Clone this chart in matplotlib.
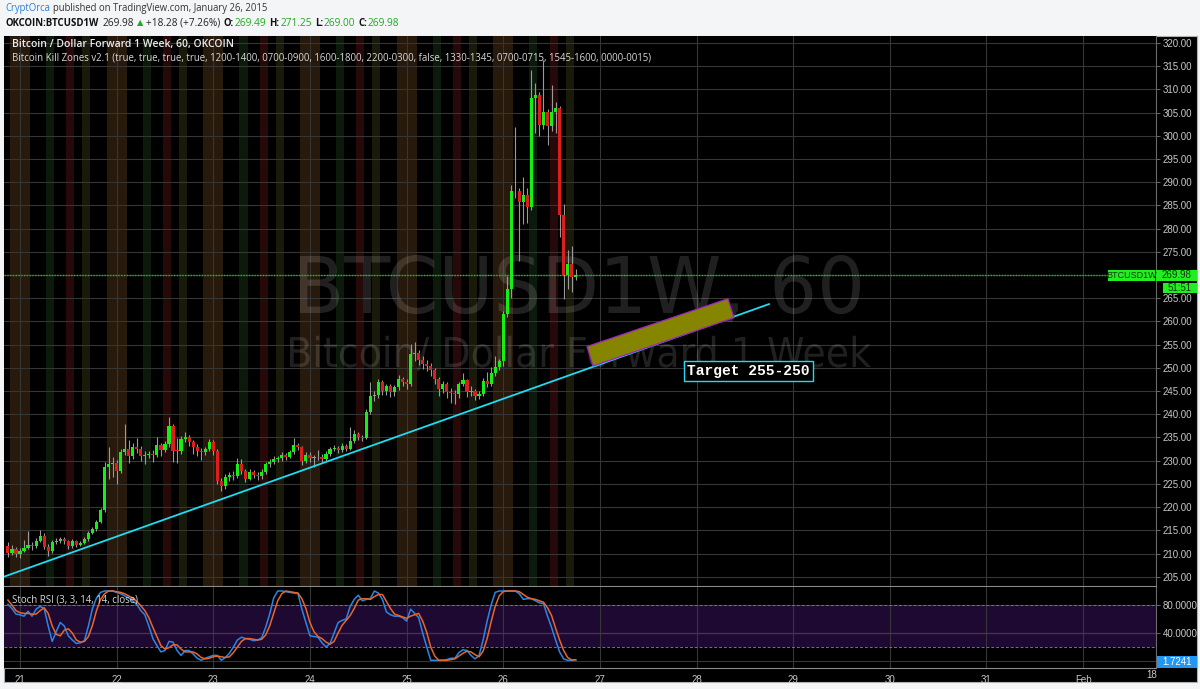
import matplotlib
matplotlib.use("Agg")
import matplotlib.pyplot as plt
import numpy as np
from matplotlib.patches import Polygon, Rectangle, PathPatch
from matplotlib.textpath import TextPath
from matplotlib.font_manager import FontProperties
from matplotlib.transforms import Affine2D

W, H = 1200, 689

# ---- data: hourly candles, OKCOIN BTCUSD 1W, from Jan 20 21:00 to Jan 26 17:00
first_open = 211.7
close = [210.2, 211.0, 210.0, 210.6, 211.2, 211.8, 211.6, 212.8, 213.8, 211.5,
         210.6, 212.5, 212.7, 213.1, 212.6, 211.6, 212.7, 211.9, 212.3, 213.1,
         214.5, 215.2, 216.8, 219.4, 228.6, 229.3, 229.4, 227.8, 231.9, 232.5,
         231.0, 233.0, 232.5, 231.0, 231.2, 231.5, 231.2, 233.4, 232.3, 233.6,
         237.5, 232.1, 232.0, 234.7, 235.1, 234.0, 233.0, 232.0, 231.9, 232.5,
         234.0, 232.0, 225.6, 224.6, 226.5, 226.9, 226.8, 229.3, 227.8, 226.1,
         227.6, 227.0, 226.6, 227.6, 229.3, 229.7, 230.4, 230.5, 231.2, 230.9,
         231.9, 233.4, 232.9, 229.9, 231.2, 230.6, 230.7, 230.9, 230.4, 231.4,
         232.5, 232.7, 232.2, 233.2, 232.6, 234.2, 235.7, 235.0, 234.8, 240.5,
         243.9, 244.2, 246.9, 245.0, 246.0, 244.8, 245.8, 247.6, 247.0, 246.5,
         253.0, 253.1, 251.8, 250.8, 250.4, 249.5, 247.6, 245.4, 246.5, 244.8,
         244.6, 244.3, 246.5, 247.3, 244.7, 245.0, 243.9, 244.3, 247.1, 246.5,
         248.8, 250.1, 251.4, 261.5, 266.9, 288.2, 288.0, 285.8, 287.3, 284.7,
         308.2, 308.8, 302.4, 305.2, 302.2, 305.2, 306.0, 283.0, 270.1, 272.3,
         269.49, 269.98]
high = [212.4, 211.8, 211.5, 211.2, 213.0, 214.8, 212.4, 213.3, 215.0, 214.4,
        212.0, 213.0, 213.4, 213.6, 213.5, 213.0, 213.1, 213.0, 212.8, 213.5,
        214.8, 215.8, 217.3, 219.9, 229.8, 233.0, 230.8, 230.2, 232.6, 237.9,
        234.5, 233.8, 234.8, 233.2, 232.0, 232.0, 232.2, 235.0, 233.9, 234.3,
        239.4, 238.0, 234.8, 235.3, 236.2, 235.6, 234.5, 233.6, 232.8, 233.0,
        234.6, 234.5, 232.6, 226.2, 227.2, 227.5, 227.8, 230.6, 230.4, 228.3,
        228.2, 228.0, 227.6, 228.3, 229.8, 230.3, 231.0, 231.0, 231.8, 231.6,
        232.4, 234.9, 233.9, 233.2, 231.8, 231.8, 231.3, 232.4, 231.4, 232.0,
        233.0, 233.4, 233.2, 233.8, 233.6, 237.2, 236.6, 236.2, 235.6, 241.2,
        246.9, 245.0, 247.6, 247.3, 246.6, 246.5, 246.4, 248.4, 248.0, 247.6,
        255.1, 255.5, 253.8, 252.6, 251.8, 251.0, 250.0, 248.0, 247.2, 247.0,
        245.6, 245.2, 247.0, 248.9, 247.6, 246.0, 245.5, 245.0, 247.8, 249.2,
        250.2, 252.5, 252.0, 262.2, 269.7, 289.3, 302.0, 288.8, 291.2, 288.8,
        314.2, 311.3, 309.5, 316.3, 305.8, 311.0, 307.3, 306.5, 285.2, 275.5,
        276.2, 271.25]
low = [209.3, 209.6, 209.2, 209.0, 210.3, 210.9, 210.8, 211.2, 212.4, 211.0,
       209.4, 210.2, 212.0, 212.3, 212.0, 211.0, 211.2, 211.5, 211.6, 212.0,
       212.8, 214.1, 214.9, 216.5, 219.0, 226.0, 226.5, 225.0, 227.3, 231.2,
       229.6, 230.3, 231.6, 230.0, 229.2, 230.6, 229.8, 230.8, 231.0, 231.8,
       233.0, 229.8, 229.5, 231.5, 234.0, 233.2, 231.5, 231.0, 230.2, 231.3,
       232.0, 231.2, 225.0, 223.5, 224.0, 225.6, 225.8, 226.3, 227.1, 225.3,
       225.8, 226.2, 225.9, 226.1, 227.2, 228.6, 229.2, 229.8, 230.0, 230.2,
       230.5, 231.5, 232.2, 229.0, 229.4, 229.8, 228.7, 230.1, 229.7, 230.0,
       231.0, 232.0, 231.6, 231.8, 232.0, 232.2, 233.8, 234.4, 234.2, 234.6,
       240.0, 242.8, 243.6, 244.2, 244.2, 243.7, 244.0, 245.2, 246.0, 245.5,
       246.0, 251.5, 250.6, 249.8, 249.3, 248.2, 246.6, 244.0, 244.6, 243.6,
       242.4, 242.2, 243.5, 246.0, 243.8, 244.0, 243.0, 243.3, 243.9, 245.8,
       246.0, 248.3, 249.5, 250.4, 261.0, 265.0, 286.5, 273.0, 281.0, 281.2,
       284.0, 300.6, 300.0, 301.5, 298.0, 301.0, 300.6, 278.3, 264.8, 266.9,
       266.3, 269.0]
stoch_k = [81, 75, 67, 66, 64, 71, 64, 74, 78, 75,
           50, 28, 42, 55, 50, 36, 30, 25, 26, 29,
           50, 75, 90, 98, 100, 100, 100, 98, 96, 93,
           90, 86, 81, 72, 66, 50, 32, 22, 13, 15,
           28, 27, 15, 8, 15, 15, 10, 4, 1, 4,
           6, 8, 8, 1, 5, 11, 20, 30, 34, 32,
           31, 29, 30, 33, 48, 67, 90, 100, 100, 99,
           98, 97, 97, 74, 55, 36, 35, 34, 26, 20,
           25, 40, 55, 58, 60, 78, 88, 94, 86, 88,
           89, 100, 97, 88, 70, 66, 64, 64, 62, 57,
           74, 68, 62, 40, 20, 1, 1, 1, 1, 2,
           4, 4, 12, 16, 15, 8, 3, 8, 30, 57,
           80, 98, 100, 100, 100, 100, 100, 96, 88, 89,
           89, 86, 83, 82, 64, 48, 30, 13, 3, 1,
           1, 1.7241]
stoch_d = [87, 80, 72, 69, 68, 68, 67, 67, 72, 76,
           68, 50, 38, 36, 44, 46, 40, 30, 27, 28,
           35, 51, 72, 88, 96, 100, 100, 99, 98, 96,
           93, 90, 85, 79, 72, 62, 48, 35, 22, 17,
           19, 23, 23, 17, 13, 13, 13, 10, 5, 3,
           4, 6, 7, 6, 5, 6, 12, 20, 28, 32,
           32, 31, 30, 31, 37, 50, 68, 86, 96, 100,
           99, 98, 97, 89, 75, 55, 42, 35, 32, 27,
           24, 28, 40, 51, 58, 65, 75, 87, 89, 89,
           88, 92, 95, 95, 85, 75, 67, 65, 63, 61,
           64, 66, 68, 57, 41, 20, 7, 1, 1, 1,
           2, 3, 7, 11, 14, 13, 9, 6, 14, 32,
           56, 78, 93, 99, 100, 100, 100, 99, 95, 91,
           89, 88, 86, 84, 76, 65, 47, 30, 15, 5,
           1.5, 1.7]
day_labels = ["21", "22", "23", "24", "25", "26", "27", "28", "29", "30", "31", "Feb"]
price_ticks = list(range(205, 325, 5))
last_price = 269.98
# kill zone hours (bar open hour) and their background colours
zone_hours = {"2200-0300": [22, 23, 0, 1, 2], "0700-0900": [7, 8],
              "1200-1400": [12, 13], "1600-1800": [16, 17]}
zone_colors = {"2200-0300": "#27190b", "0700-0900": "#0b1a0b",
               "1200-1400": "#270909", "1600-1800": "#1a1a0a"}
# drawings (hours since Jan 21 00:00, price)
trend_line = [(-4.0, 205.0), (186.2, 263.8)]
target_zone = [(140.8, 254.6), (175.8, 264.9), (177.3, 260.8), (142.3, 250.4)]
target_label = (180.8, 249.3)

hours = np.arange(len(close)) - 3
opens = np.r_[first_open, close[:-1]]
close = np.array(close)
day_hours = np.arange(len(day_labels)) * 24


def rect(x0, y0, x1, y1):
    return [x0 / W, 1 - y1 / H, (x1 - x0) / W, (y1 - y0) / H]


fig = plt.figure(figsize=(12, 6.89), dpi=100, facecolor="#f3f5f7")

bg = fig.add_axes(rect(4, 36, 1197, 682))
bg.set_facecolor("black")
bg.set_xticks([])
bg.set_yticks([])
for s in bg.spines.values():
    s.set_color("#b0b0b0")
    s.set_linewidth(0.8)

ax = fig.add_axes(rect(4, 36, 1156, 586))
rx = fig.add_axes(rect(4, 587, 1156, 668))
for a in (ax, rx):
    a.set_facecolor("black")
    for s in a.spines.values():
        s.set_visible(False)
    a.spines["right"].set_visible(True)
    a.spines["right"].set_color("#6a6a6a")
    a.spines["bottom"].set_visible(True)
    a.spines["bottom"].set_color("#8a8a8a")
    a.set_xlim(-3.97, 282.1)
    a.set_xticks(day_hours)
    a.grid(True, color="#363636", lw=0.8, zorder=0.5)
    a.set_axisbelow(True)

# kill zone background
ymin, ymax = 203.0, 321.5
for name, hrs in zone_hours.items():
    for h in hours:
        if h % 24 in hrs:
            ax.axvspan(h - 0.5, h + 0.5, color=zone_colors[name], lw=0, zorder=0.2)


def fit_text(a, s, x0, x1, y_base, cap, family, alpha):
    fp = FontProperties(family=family)
    tp = TextPath((0, 0), s, size=1, prop=fp)
    ext = tp.get_extents()
    cap_h = TextPath((0, 0), "H", size=1, prop=fp).get_extents().y1
    tr = Affine2D().translate(-ext.x0, 0).scale((x1 - x0) / ext.width, cap / cap_h)
    tr = tr.translate(x0, H - y_base)
    patch = PathPatch(tr.transform_path(tp), facecolor="white", edgecolor="none",
                      alpha=alpha, transform=Affine2D().scale(1 / W, 1 / H) + fig.transFigure,
                      zorder=0.7)
    patch.set_clip_path(a.patch)
    a.add_artist(patch)


fit_text(ax, "BTCUSD1W, 60", 300, 860, 313, 57, "DejaVu Sans", 0.13)
fit_text(ax, "Bitcoin/ Dollar Forward 1 Week", 290, 871, 367, 30, "DejaVu Sans", 0.13)

# candles
up = close >= opens
ax.vlines(hours, low, high, color="#9a9a9a", lw=0.8, zorder=3)
body_lo = np.minimum(opens, close)
body_h = np.maximum(np.abs(close - opens), 0.2)
ax.bar(hours, body_h, bottom=body_lo, width=0.78,
       color=np.where(up, "#14f014", "#dc1e1e"), lw=0, zorder=4)

# last price line
ax.axhline(last_price, color="#20c020", lw=1.0, ls=(0, (1, 1)), zorder=2)

# trend line and target zone
tx, ty = zip(*trend_line)
ax.plot(tx, ty, color="#1fdcf2", lw=1.3, zorder=5, solid_capstyle="butt")
ax.add_patch(Polygon(target_zone, closed=True, facecolor="#858500", edgecolor="#a020c8",
                     lw=0.9, zorder=5))
ax.text(target_label[0], target_label[1], "Target 255-250", family="Liberation Mono",
        weight="bold", fontsize=10.5, color="white", ha="center", va="center", zorder=6,
        bbox=dict(boxstyle="square,pad=0.22", fc="black", ec="#1fdcf2", lw=1.0))

ax.set_ylim(ymin, ymax)
ax.yaxis.tick_right()
ax.set_yticks(price_ticks)
ax.set_yticklabels([f"{p:.2f}" for p in price_ticks])
ax.tick_params(axis="y", colors="#c8c8c8", labelsize=7, length=3, width=0.6, pad=2)
ax.tick_params(axis="y", color="#777777")
ax.tick_params(axis="x", length=0, labelbottom=False)
for lab in ax.get_yticklabels():
    lab.set_family("Liberation Sans")

# stoch RSI pane
rx.set_ylim(-10, 105.7)
rx.axhspan(20, 80, color="#1e0932", lw=0, zorder=0.3)
rx.axhline(80, color="#7d6c8c", lw=0.7, ls=(0, (3, 2)), zorder=1)
rx.axhline(20, color="#7d6c8c", lw=0.7, ls=(0, (3, 2)), zorder=1)
rx.axhline(40, color="#4a2e5e", lw=0.9, zorder=1)
rx.plot(hours, stoch_k, color="#2a86e6", lw=1.1, zorder=3)
rx.plot(hours, stoch_d, color="#e8662a", lw=1.1, zorder=3)
rx.yaxis.tick_right()
rx.set_yticks([0, 40, 80])
rx.set_yticklabels(["", "40.0000", "80.0000"])
rx.tick_params(axis="y", colors="#c8c8c8", labelsize=7, length=3, width=0.6, pad=2)
rx.tick_params(axis="y", color="#777777")
rx.set_xticklabels(day_labels)
rx.tick_params(axis="x", colors="#c8c8c8", labelsize=7, length=0, pad=5)
for lab in rx.get_yticklabels() + rx.get_xticklabels():
    lab.set_family("Liberation Sans")
fig.text(1152 / W, 1 - 675 / H, "18", color="#c8c8c8", fontsize=7, family="Liberation Sans",
         ha="center", va="center")

# text overlays in the panes
ax.text(8 / 1152, 1 - 9 / 550, "Bitcoin / Dollar Forward 1 Week, 60, OKCOIN",
        transform=ax.transAxes, color="#ececec", fontsize=7.5, family="Open Sans",
        weight="semibold", va="center", zorder=7)
ax.text(8 / 1152, 1 - 22 / 550,
        "Bitcoin Kill Zones v2.1 (true, true, true, true, 1200-1400, 0700-0900, 1600-1800, "
        "2200-0300, false, 1330-1345, 0700-0715, 1545-1600, 0000-0015)",
        transform=ax.transAxes, color="#d8d8d8", fontsize=6.95, family="Open Sans",
        va="center", zorder=7)
rx.text(8 / 1152, 1 - 13 / 81, "Stoch RSI (3, 3, 14, 14, close)", transform=rx.transAxes,
        color="#d8d8d8", fontsize=6.9, family="Open Sans", va="center", zorder=7)


def label_box(x0, y0, x1, y1, fc, txt, tc, size=6.8):
    fig.add_artist(Rectangle((x0 / W, 1 - y1 / H), (x1 - x0) / W, (y1 - y0) / H,
                             transform=fig.transFigure, fc=fc, ec="none", zorder=8))
    fig.text((x0 + x1) / 2 / W, 1 - (y0 + y1) / 2 / H, txt, color=tc, fontsize=size,
             family="Liberation Sans", ha="center", va="center", zorder=9)


label_box(1108, 270, 1155, 281, "#22ee22", "BTCUSD1W", "#0a3a0a", 6.5)
label_box(1156, 270, 1197, 281, "#22ee22", f"{last_price:.2f}", "#0a3a0a", 7)
label_box(1163, 283, 1197, 293, "#22ee22", "51:51", "#0a3a0a", 7)
label_box(1157, 656, 1197, 668, "#2196f3", f"{stoch_k[-1]:.4f}", "white", 7)

# header, pieces laid out one after another
renderer = fig.canvas.get_renderer()


def chain(pieces, x, y, size, bold_size=None):
    for txt, color, weight, gap in pieces:
        fam = ["DejaVu Sans"] if txt == "\u25b2" else ["Open Sans", "DejaVu Sans"]
        if txt == "\u25b2":
            fs = size - 1.3
        elif weight == "bold" and bold_size:
            fs = bold_size
        else:
            fs = size
        t = fig.text(x / W, 1 - y / H, txt, color=color, weight=weight, family=fam,
                     fontsize=fs, va="center")
        x = t.get_window_extent(renderer=renderer).x1 + gap


chain([("CryptOrca", "#2a7fd4", "normal", 3),
       ("published on TradingView.com, January 26, 2015", "#333333", "normal", 0)], 5, 9, 6.85)
green = "#22a822"
chain([("OKCOIN:BTCUSD1W", "#111111", "bold", 4), (f"{last_price:.2f}", "#222222", "normal", 3),
       ("\u25b2", green, "normal", 3), ("+18.28 (+7.26%)", "#222222", "normal", 3),
       ("O:", "#111111", "bold", 1), ("269.49", green, "normal", 3),
       ("H:", "#111111", "bold", 1), ("271.25", green, "normal", 3),
       ("L:", "#111111", "bold", 1), ("269.00", green, "normal", 3),
       ("C:", "#111111", "bold", 1), ("269.98", green, "normal", 0)], 5, 23, 7.25, 6.9)

fig.savefig("out.png", dpi=100, facecolor=fig.get_facecolor())
